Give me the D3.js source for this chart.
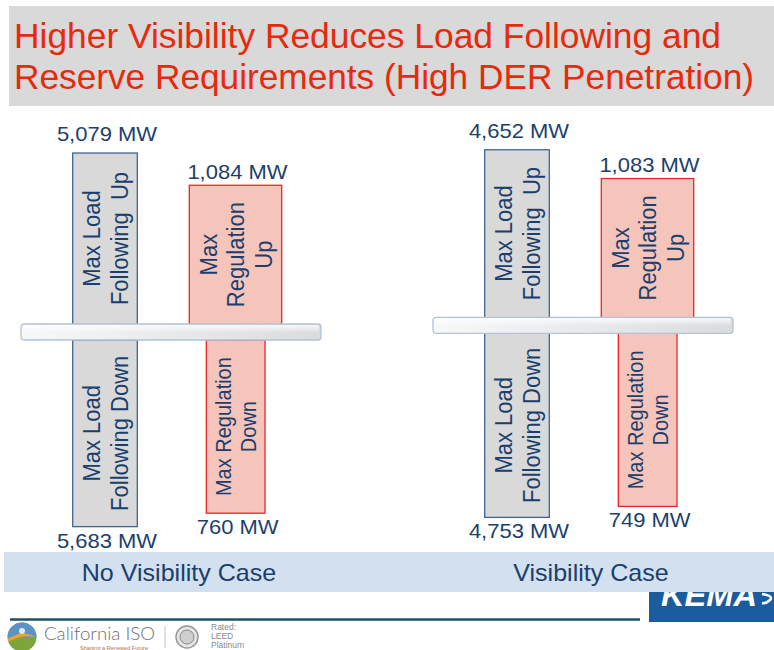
<!DOCTYPE html>
<html>
<head>
<meta charset="utf-8">
<script src="https://cdn.jsdelivr.net/npm/d3@7"></script>
<style>
  body { margin: 0; background: #fff; }
  svg { display: block; font-family: Arial, "Liberation Sans", sans-serif; }
</style>
</head>
<body>
<svg id="chart"></svg>
<script>
var width = 774,
  height = 650;

// values
var cases = ["No Visibility Case", "Visibility Case"];
var loadFollowingUp = [5079, 4652];
var regulationUp = [1084, 1083];
var loadFollowingDown = [5683, 4753];
var regulationDown = [760, 749];

var titleLines = ["Higher Visibility Reduces Load Following and",
                  "Reserve Requirements (High DER Penetration)"];
var titleWidths = [707, 740];
var lfUpText = ["Max Load", "Following\u00a0\u00a0Up"];
var regUpText = ["Max", "Regulation", "Up"];
var lfDownText = ["Max Load", "Following Down"];
var regDownText = ["Max Regulation", "Down"];

var navy = "#1b3f6c";

var svg = d3.select("#chart")
  .attr("width", width)
  .attr("height", height);

var defs = svg.append("defs");
var plat = defs.append("linearGradient").attr("id", "plat");
plat.append("stop").attr("offset", "0%").attr("stop-color", "#f7f8fa");
plat.append("stop").attr("offset", "100%").attr("stop-color", "#d9dbde");
var platV = defs.append("linearGradient").attr("id", "platV")
  .attr("x1", 0).attr("y1", 0).attr("x2", 0).attr("y2", 1);
platV.append("stop").attr("offset", "0%").attr("stop-color", "#fff").attr("stop-opacity", 0.8);
platV.append("stop").attr("offset", "60%").attr("stop-color", "#fff").attr("stop-opacity", 0);

// title block
svg.append("rect")
  .attr("x", 9).attr("y", 6)
  .attr("width", width - 9).attr("height", 100)
  .attr("fill", "#d9d9d9");

svg.selectAll(".title")
  .data(titleLines)
  .enter().append("text")
  .attr("class", "title")
  .attr("x", 14)
  .attr("y", function (d, i) { return 47.5 + i * 41; })
  .attr("textLength", function (d, i) { return titleWidths[i]; })
  .attr("lengthAdjust", "spacingAndGlyphs")
  .attr("fill", "#e8290b")
  .style("font-size", "35.5px")
  .text(function (d) { return d; });

// layout scales
var panelX = d3.scalePoint().domain(cases).range([0, 412]);
var baseY = d3.scaleOrdinal().domain(cases).range([324, 317.3]);
var upLen = d3.scaleLinear().domain([0, 6000]).range([130, 178.4]);
var downLen = d3.scaleLinear().domain([0, 6000]).range([171.1, 187.5]);
var platformH = 16;

var slots = {
  lf: { x: 72.7, w: 64.6 },
  regUp: { x: 189.3, w: 92.4 },
  regDown: { x: 206.3, w: 58.7 }
};

var bars = [];
cases.forEach(function (c, i) {
  bars.push({ c: c, kind: "lf", dir: "up", value: loadFollowingUp[i], lines: lfUpText, slot: slots.lf, fs: 22, lh: 25.5, gap: 12 });
  bars.push({ c: c, kind: "reg", dir: "up", value: regulationUp[i], lines: regUpText, slot: slots.regUp, fs: 22, lh: 25, gap: 6.5 });
  bars.push({ c: c, kind: "lf", dir: "down", value: loadFollowingDown[i], lines: lfDownText, slot: slots.lf, fs: 22, lh: 25.5 });
  bars.push({ c: c, kind: "reg", dir: "down", value: regulationDown[i], lines: regDownText, slot: slots.regDown, fs: 20, lh: 22.3 });
});

bars.forEach(function (d) {
  d.x = panelX(d.c) + d.slot.x;
  d.w = d.slot.w;
  if (d.dir === "up") {
    d.len = upLen(d.value);
    d.y = baseY(d.c) - d.len;
  } else {
    d.len = downLen(d.value);
    d.y = baseY(d.c) + platformH;
  }
  d.cx = d.x + d.w / 2;
});

svg.selectAll(".bar")
  .data(bars)
  .enter().append("rect")
  .attr("class", "bar")
  .attr("x", function (d) { return d.x; })
  .attr("y", function (d) { return d.y; })
  .attr("width", function (d) { return d.w; })
  .attr("height", function (d) { return d.dir === "up" ? d.len + 2 : d.len; })
  .attr("fill", function (d) { return d.kind === "lf" ? "#d9d9d9" : "#f5c4bb"; })
  .attr("stroke", function (d) { return d.kind === "lf" ? "#41648d" : "#ec2327"; })
  .attr("stroke-width", 1.3);

// platforms
cases.forEach(function (c) {
  var g = svg.append("g").attr("transform", "translate(" + (panelX(c) + 21) + "," + baseY(c) + ")");
  g.append("rect")
    .attr("width", 300).attr("height", platformH).attr("rx", 3)
    .attr("fill", "url(#plat)")
    .attr("stroke", "#b3c2d5").attr("stroke-width", 1.3);
  g.append("rect")
    .attr("x", 2).attr("y", 1)
    .attr("width", 296).attr("height", platformH - 3).attr("rx", 2)
    .attr("fill", "url(#platV)");
});

// rotated names inside the bars
var names = svg.selectAll(".name")
  .data(bars)
  .enter().append("g")
  .attr("class", "name")
  .attr("transform", function (d) {
    return "translate(" + d.cx + "," + (d.y + d.len / 2) + ") scale(1.1,1) rotate(-90)";
  });

names.each(function (d) {
  var n = d.lines.length;
  d3.select(this).selectAll("text")
    .data(d.lines)
    .enter().append("text")
    .attr("text-anchor", "middle")
    .attr("y", function (t, k) { return (k - (n - 1) / 2) * d.lh + 0.36 * d.fs; })
    .attr("fill", navy)
    .style("font-size", d.fs + "px")
    .text(function (t) { return t; });
});

// MW labels
svg.selectAll(".value")
  .data(bars)
  .enter().append("text")
  .attr("class", "value")
  .attr("text-anchor", "middle")
  .attr("transform", function (d) {
    var y = d.dir === "up" ? d.y - d.gap : d.y + d.len + 21;
    return "translate(" + (d.cx + 2) + "," + y + ") scale(1.1,1)";
  })
  .attr("fill", navy)
  .style("font-size", "20px")
  .text(function (d) { return d3.format(",")(d.value) + " MW"; });

// bottom KEMA tab (sits under the band)
svg.append("rect")
  .attr("x", 649).attr("y", 586)
  .attr("width", width - 649).attr("height", 36)
  .attr("fill", "#1a5c9e");
svg.append("text")
  .attr("x", 661).attr("y", 606)
  .attr("fill", "#fff")
  .attr("textLength", 96)
  .attr("lengthAdjust", "spacingAndGlyphs")
  .style("font-size", "31px").style("font-weight", "bold").style("font-style", "italic")
  .text("KEMA");
svg.append("path")
  .attr("d", "M762,594 Q774,596 770,600 Q766,604 762,603")
  .attr("fill", "none").attr("stroke", "#fff").attr("stroke-width", 2.5);

// case band
svg.append("rect")
  .attr("x", 4).attr("y", 552)
  .attr("width", width - 4).attr("height", 40)
  .attr("fill", "#d2e0ef");

svg.selectAll(".case")
  .data(cases)
  .enter().append("text")
  .attr("class", "case")
  .attr("text-anchor", "middle")
  .attr("transform", function (d) { return "translate(" + (panelX(d) + 179) + ",580.5) scale(1.09,1)"; })
  .attr("fill", navy)
  .style("font-size", "23px")
  .text(function (d) { return d; });

// footer
svg.append("line")
  .attr("x1", 10).attr("x2", 640)
  .attr("y1", 619.5).attr("y2", 619.5)
  .attr("stroke", "#1f4f60").attr("stroke-width", 2.5);

var logo = svg.append("g");
logo.append("circle").attr("cx", 22).attr("cy", 637).attr("r", 14.5).attr("fill", "#7aa63a");
logo.append("path").attr("d", "M7.5,637 A14.5,14.5 0 0 1 36.5,637 Z").attr("fill", "#5b93c9");
logo.append("path").attr("d", "M8,639 Q22,629 36,637 Q22,634 8,642 Z").attr("fill", "#f0a13a");
logo.append("circle").attr("cx", 22).attr("cy", 631).attr("r", 3).attr("fill", "#fff").attr("opacity", 0.8);

logo.append("text")
  .attr("x", 44).attr("y", 639.5)
  .attr("fill", "#6f6f6f")
  .attr("textLength", 111)
  .attr("lengthAdjust", "spacingAndGlyphs")
  .style("font-family", "Lato, 'Open Sans', sans-serif").style("font-weight", 300)
  .style("font-size", "18px")
  .text("California ISO");
logo.append("text")
  .attr("x", 80).attr("y", 649.5)
  .attr("fill", "#c4703a")
  .attr("textLength", 68)
  .attr("lengthAdjust", "spacingAndGlyphs")
  .style("font-size", "5px")
  .text("Shaping a Renewed Future");
logo.append("line")
  .attr("x1", 165).attr("x2", 165).attr("y1", 626).attr("y2", 648)
  .attr("stroke", "#c4c4c4");
logo.append("circle").attr("cx", 187).attr("cy", 637).attr("r", 11)
  .attr("fill", "#e6e6e6").attr("stroke", "#9a9a9a").attr("stroke-width", 1.5);
logo.append("circle").attr("cx", 187).attr("cy", 637).attr("r", 7)
  .attr("fill", "#cfcfcf").attr("stroke", "#8a8a8a");
logo.selectAll(".leed")
  .data(["Rated:", "LEED", "Platinum"])
  .enter().append("text")
  .attr("x", 211)
  .attr("y", function (d, i) { return 630 + i * 9; })
  .attr("fill", "#8a8a8a")
  .style("font-size", "8.5px")
  .text(function (d) { return d; });
</script>
</body>
</html>
